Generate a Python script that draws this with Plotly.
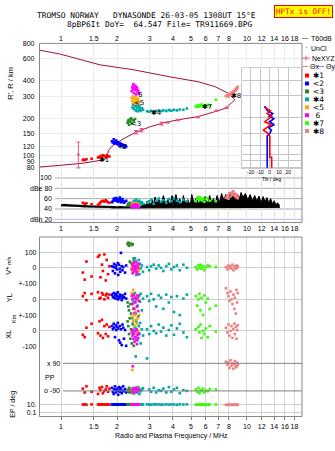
import numpy as np
import plotly.graph_objects as go

W, H = 335, 451

# ---------------------------------------------------------------- header text
TITLE_LINE_1 = "TROMSO NORWAY   DYNASONDE 26-03-05 1308UT 15°E"
TITLE_LINE_2 = "8pBP6It DoY=  64.547 File= TR911669.BPG"
STATUS_TEXT = "HPTx is OFF!"
FREQ_TITLE = "Radio and Plasma Frequency / MHz"

# ---------------------------------------------------------------- axis ticks
FREQ_TICKS = [1, 1.5, 2, 3, 4, 5, 6, 7, 8, 10, 12, 14, 16, 18]
FREQ_TICK_TEXT = ["1", "1.5", "2", "3", "4", "5", "6", "7", "8", "10", "12", "14", "16", "18"]
HEIGHT_TICKS = [80, 90, 100, 120, 150, 200, 300, 400, 600, 800]
AMP_TICKS = [100, 80, 60, 40, 20]
AMP_TICK_TEXT = ["100", "dBe 80", "60", "40", "dBn 20"]
TILT_TICKS = [-20, -10, 0, 10, 20]
TILT_TICK_TEXT = ["-20", "-10", "0", "10", "20"]

# ---------------------------------------------------------------- model profile (MHz, km)
profile_freq = [0.77, 0.99, 1.62, 2.44, 3.85, 5.45, 6.72, 7.91, 8.43, 8.60,
                8.27, 7.77, 6.87, 5.47, 4.27, 3.55, 3.00, 2.71, 2.53, 2.16,
                1.91, 1.80, 1.78, 1.76, 1.69, 1.32, 0.99, 0.77]
profile_height = [705, 656, 538, 492, 431, 394, 360, 319, 291, 282,
                  268, 243, 229, 207, 195, 184, 171, 162, 155, 137,
                  122, 111, 100, 96, 93, 87.5, 84, 81.5]

# NeXYZ plasma-frequency points with height uncertainty
ne_freq = [1.24, 2.53, 2.71, 3.47, 3.76, 4.25, 5.45, 6.86, 7.77]
ne_height = [102, 155, 161, 182, 186, 194, 205, 230, 243]
ne_err_up = [27, 5, 5, 5, 2, 2, 2, 2, 2]
ne_err_down = [22, 5, 5, 5, 2, 2, 2, 2, 2]

# tilt profiles (km, deg)
theta_height = [79, 96, 96, 142, 150, 158, 166, 175, 185, 195, 205, 215, 226, 238, 246]
theta_x = [2.3, 2.3, 0.3, 0.3, -2.0, -6.5, -3.0, 1.5, -5.0, -1.0, 2.5, -2.5, 1.0, -3.5, -4.5]
theta_y = [-2.5, -2.5, -2.5, -2.5, 0.5, 2.0, -1.0, 5.0, 0.0, 4.5, -0.5, 3.5, -2.0, -4.0, -5.5]

# T60dB noise/amplitude envelope (MHz, dB)
t60_freq = [1.00, 1.05, 1.10, 1.15, 1.20, 1.25, 1.30, 1.40, 1.50, 1.60,
            1.70, 1.80, 1.90, 2.00, 2.10, 2.20, 2.30, 2.40, 2.50, 2.60,
            2.70, 2.80, 2.85, 2.90, 2.95, 3.00, 3.05, 3.10, 3.15, 3.20,
            3.30, 3.35, 3.45, 3.55, 3.65, 3.75, 3.85, 3.95, 4.05, 4.15,
            4.25, 4.35, 4.45, 4.55, 4.65, 4.80, 4.95, 5.05, 5.20, 5.35,
            5.50, 5.65, 5.80, 5.95, 6.10, 6.30, 6.45, 6.60, 6.75, 6.90,
            7.10, 7.30, 7.50, 7.70, 7.90, 8.10, 8.30, 8.50, 8.70, 8.90,
            9.10, 9.30, 9.50, 9.80, 10.1, 10.4, 10.7, 11.0, 11.3, 11.6,
            11.9, 12.2, 12.5, 12.8, 13.1, 13.4, 13.7, 14.0, 14.3, 14.6, 15.0]
t60_floor = [46, 46, 46, 45, 45, 45, 44, 44, 43, 43,
             43, 43, 42, 42, 42, 42, 42, 42, 42, 42,
             42, 42, 42, 42, 42, 42, 42, 42, 42, 42,
             42, 42, 42, 42, 42, 42, 42, 42, 42, 42,
             42, 42, 42, 42, 42, 42, 42, 42, 42, 42,
             42, 42, 42, 42, 42, 42, 42, 42, 42, 42,
             42, 42, 42, 42, 42, 42, 42, 42, 42, 42,
             43, 43, 43, 43, 43, 43, 43, 43, 43, 43,
             43, 43, 43, 43, 43, 43, 43, 43, 43, 43, 43]
t60_level = [48, 49, 48, 48, 47, 47, 47, 46, 46, 46,
             45, 45, 45, 44, 45, 44, 45, 44, 45, 46,
             47, 50, 46, 55, 47, 52, 46, 58, 48, 63,
             50, 60, 47, 66, 50, 58, 48, 66, 52, 68,
             50, 60, 47, 66, 52, 58, 47, 68, 50, 62,
             49, 58, 50, 64, 48, 66, 52, 60, 48, 66,
             52, 70, 58, 68, 55, 72, 60, 70, 58, 68,
             60, 72, 62, 70, 58, 68, 56, 66, 55, 65,
             52, 64, 54, 62, 52, 60, 50, 56, 48, 52, 46]

# ---------------------------------------------------------------- echo clusters
red_freq = [1.31, 1.34, 1.37, 1.46, 1.58, 1.61, 1.63, 1.66, 1.68, 1.71, 1.74, 1.76, 1.79, 1.82]
red_height = [93, 93, 94, 95, 97, 98, 100, 99, 101, 100, 98, 101, 100, 99]
red_amp = [52, 50, 51, 49, 48, 50, 53, 55, 56, 54, 57, 55, 53, 52]
red_vstar = [-30, -75, 40, -55, 70, 80, -60, 20, -20, 85, -80, 50, -40, 10]
red_yl = [20, 40, -5, 35, 45, 5, 10, 40, 30, 0, 25, 35, 10, 30]
red_xl = [-25, -40, 20, 45, -15, 60, -30, 70, -45, 30, -20, 40, -35, 25]
red_pp = [-75, -100, -60, -95, -110, -70, -85, -65, -105, -90, -80, -60, -95, -75]
red_ep = [11, 12, 10, 12, 11, 13, 10, 12, 11, 12, 10, 11, 12, 11]

blue_freq = [1.88, 1.90, 1.92, 1.93, 1.95, 1.97, 1.98, 2.00, 2.02, 2.03,
             2.05, 2.07, 2.08, 2.10, 2.12, 2.14, 2.16, 2.18, 2.21, 2.24]
blue_height = [131, 128, 136, 126, 130, 127, 133, 125, 129, 124,
               127, 122, 126, 121, 124, 120, 122, 118, 121, 119]
blue_amp = [53, 55, 58, 60, 57, 56, 61, 59, 55, 54, 58, 62, 57, 53, 56, 59, 55, 52, 54, 56]
blue_vstar = [10, -20, 5, 25, -35, 0, 15, -10, 30, -45, 20, -5, -25, 95, 10, -15, 5, -105, -30, 15]
blue_yl = [30, 15, 40, 10, 25, 5, 35, 20, 45, 0, 15, 30, 10, 20, -5, 25, 10, 15, 35, 5]
blue_xl = [30, 10, 45, 20, -40, 35, 5, 25, 50, 15, -60, 30, -75, 10, -90, 40, 20, -50, 5, -95]
blue_pp = [-70, -95, -110, -80, -60, -100, -85, -75, -90, -115,
           -65, -95, -80, -70, -105, -88, -60, -92, -78, -100]
blue_ep = [11, 12, 11, 10, 12, 11, 13, 11, 12, 10, 11, 12, 11, 10, 12, 11, 12, 11, 10, 12]

green_freq = [2.28, 2.30, 2.32, 2.34, 2.36, 2.38, 2.40, 2.43, 2.46, 2.50]
green_height = [185, 192, 178, 196, 188, 200, 182, 194, 190, 198]
green_amp = [47, 50, 48, 52, 46, 49, 51, 48, 50, 47]
green_vstar = [150, 160, 140, 40, 155, 30, 145, 150, 60, 35]
green_yl = [-20, -45, -70, -110, -30, -90, -125, 0, -60, -15]
green_xl = [60, 30, -20, 80, -50, 10, -80, 45, -95, 20]
green_pp = [-85, -95, -70, -100, -80, -90, -75, -105, -88, -92]
green_ep = [12, 11, 12, 10, 11, 12, 11, 12, 11, 12]

teal_freq = [2.42, 2.44, 2.46, 2.48, 2.50, 2.52, 2.54, 2.56, 2.58, 2.60,
             2.62, 2.64, 2.66, 2.68, 2.72, 2.76, 2.90, 2.98, 3.05, 3.15,
             3.25, 3.35, 3.45, 3.55, 3.68, 3.80, 3.92, 4.05, 4.20, 4.35, 4.55, 4.75]
teal_height = [245, 258, 238, 262, 250, 232, 255, 244, 228, 248,
               236, 252, 240, 230, 242, 235, 228, 226, 230, 227,
               229, 231, 228, 232, 230, 233, 231, 234, 232, 236, 235, 240]
teal_amp = [50, 53, 56, 49, 52, 55, 58, 51, 47, 54,
            50, 56, 52, 48, 53, 50, 52, 55, 58, 50,
            56, 60, 54, 57, 52, 59, 55, 61, 56, 53, 58, 55]
teal_vstar = [20, -30, 45, -10, 60, 0, -45, 30, -20, 10,
              50, -40, 25, -5, 15, -25, 5, -15, 10, 20,
              -5, 15, 0, -20, 10, 25, -10, 5, 15, -15, 20, 0]
teal_yl = [30, -20, 10, -60, 40, -90, 0, 20, -40, 15,
           -110, 25, -15, 35, -70, 5, 20, -10, 35, 0,
           -45, 25, 10, -60, 30, -20, 15, -80, 20, -100, 5, 30]
teal_xl = [80, 40, -10, 120, 20, -40, 60, 0, -60, 90,
           30, -20, 50, -80, 10, -30, 10, -20, 30, 0,
           -15, 40, -5, 20, -30, 5, 35, -25, 15, 45, -10, -40]
teal_pp = [-80, -95, -70, -105, -85, 135, -90, -75, -100, -65,
           -88, -110, -78, -92, -84, -72, 122, -80, -95, -70,
           -100, -85, -90, -75, -100, -65, -95, -80, -70, -105, -85, -90]
teal_ep = [11, 12, 11, 10, 12, 11, 12, 11, 10, 12,
           11, 12, 11, 10, 12, 11, 12, 11, 10, 12,
           11, 12, 11, 10, 12, 11, 12, 11, 10, 12, 11, 12]

orange_freq = [2.40, 2.42, 2.44, 2.46, 2.48, 2.50, 2.52, 2.54, 2.56, 2.58, 2.60, 2.63]
orange_height = [290, 275, 300, 268, 285, 262, 295, 272, 280, 265, 288, 270]
orange_amp = [48, 50, 46, 52, 49, 47, 51, 48, 50, 46, 49, 47]
orange_vstar = [10, -20, 25, -5, 30, 0, -30, 15, -10, 20, 5, -15]
orange_yl = [40, -30, 60, -120, 10, -80, -150, 20, -50, -170, 0, -100]
orange_xl = [120, 90, 60, 150, 30, 100, 70, -20, 45, 80, 0, 110]
orange_pp = [-80, 47, -90, -100, -75, -85, -95, -70, -88, -92, -78, -84]
orange_ep = [12, 11, 12, 11, 10, 12, 11, 12, 11, 12, 11, 10]

magenta_freq = [2.40, 2.42, 2.43, 2.45, 2.46, 2.48, 2.50, 2.51, 2.53, 2.55, 2.56, 2.58, 2.60, 2.62]
magenta_height = [330, 360, 345, 375, 320, 350, 338, 365, 312, 342, 355, 325, 335, 318]
magenta_amp = [45, 47, 43, 48, 46, 44, 49, 45, 47, 44, 46, 48, 45, 43]
magenta_vstar = [-10, 20, -35, 5, 30, -20, 10, -5, 40, -25, 15, -40, 0, 25]
magenta_yl = [20, -30, 0, -60, 30, -90, 10, -20, -110, 5, -45, 25, -75, -10]
magenta_xl = [-10, -30, 5, -50, -20, -70, 0, -40, -60, 10, -85, -25, -45, -15]
magenta_pp = [-85, -95, 71, -75, -100, -88, -80, -92, -70, -96, -84, -78, -90, -82]
magenta_ep = [11, 12, 11, 12, 10, 11, 12, 11, 12, 11, 10, 12, 11, 12]

lime_freq = [5.30, 5.40, 5.48, 5.55, 5.62, 5.70, 5.80, 5.90, 6.00, 6.15, 6.30, 6.80]
lime_height = [250, 254, 248, 256, 252, 258, 251, 255, 253, 257, 254, 282]
lime_amp = [55, 60, 63, 58, 62, 57, 60, 54, 59, 61, 56, 55]
lime_vstar = [5, -10, 15, 0, 20, -5, 10, -15, 5, 15, 10, 5]
lime_yl = [20, -40, 0, 35, -70, 10, -100, 25, -20, 5, -60, -40]
lime_xl = [10, -130, 25, -10, 40, -45, 0, -20, 15, -40, 30, -5]
lime_pp = [-80, -95, -70, -105, -85, -90, -75, -100, -88, -92, -78, -80]
lime_ep = [10, 11, 10, 11, 10, 11, 10, 11, 10, 11, 10, 11]

salmon_freq = [7.70, 7.85, 7.95, 8.05, 8.15, 8.25, 8.35, 8.45, 8.55, 8.60, 8.70, 8.78, 8.85, 8.92]
salmon_height = [302, 308, 300, 315, 310, 322, 318, 330, 326, 340, 335, 350, 345, 358]
salmon_amp = [62, 66, 60, 70, 64, 72, 68, 74, 66, 70, 63, 68, 65, 61]
salmon_vstar = [5, -10, 15, 0, 10, -5, 20, -15, 5, 10, -5, 15, 0, 10]
salmon_yl = [70, 40, 20, -10, 50, 0, -30, 30, -60, 10, -90, 60, -20, 40]
salmon_xl = [20, -10, 40, -30, 0, 30, -45, 10, 45, -20, 25, -50, 5, 35]
salmon_pp = [100, 80, 95, 60, 110, 75, 90, 55, 85, 105, 70, 65, 95, 80]
salmon_ep = [9, 10, 9, 10, 9, 10, 9, 10, 9, 10, 9, 10, 9, 10]

CLUSTER_LABELS = ["✱1", "<2", "<3", "✱4", "<5", " 6", "✱7", "✱8"]
CLUSTER_COLORS = ["#ff0000", "#0000ff", "#228b22", "#00a8a8",
                  "#ffa500", "#ff00ff", "#33ff00", "#f08080"]
# label anchor (MHz, km) of each cluster tag in the height panel
TAG_FREQ = [1.70, 2.14, 2.52, 3.27, 2.64, 2.68, 6.07, 8.69]
TAG_HEIGHT = [92, 118, 180, 222, 268, 308, 248, 302]

cluster_table = [
    (red_freq, red_height, red_amp, red_vstar, red_yl, red_xl, red_pp, red_ep),
    (blue_freq, blue_height, blue_amp, blue_vstar, blue_yl, blue_xl, blue_pp, blue_ep),
    (green_freq, green_height, green_amp, green_vstar, green_yl, green_xl, green_pp, green_ep),
    (teal_freq, teal_height, teal_amp, teal_vstar, teal_yl, teal_xl, teal_pp, teal_ep),
    (orange_freq, orange_height, orange_amp, orange_vstar, orange_yl, orange_xl, orange_pp, orange_ep),
    (magenta_freq, magenta_height, magenta_amp, magenta_vstar, magenta_yl, magenta_xl, magenta_pp, magenta_ep),
    (lime_freq, lime_height, lime_amp, lime_vstar, lime_yl, lime_xl, lime_pp, lime_ep),
    (salmon_freq, salmon_height, salmon_amp, salmon_vstar, salmon_yl, salmon_xl, salmon_pp, salmon_ep),
]

# ---------------------------------------------------------------- layout helpers (pixel -> paper)
def px(x):
    return x / W


def py(y):
    return 1 - y / H


X_LEFT, X_RIGHT = 39.5, 302
FREQ_RANGE = [np.log10(0.766), np.log10(19.76)]
FONT = "Liberation Sans, Arial, sans-serif"
MONO = "DejaVu Sans Mono, monospace"
tick_font = dict(family=FONT, size=7, color="#000000")


def note(x, y, text, size=7, family=FONT, xanchor="center", angle=0, color="#000000", **kw):
    """Paper-positioned text given in pixel coordinates."""
    return dict(xref="paper", yref="paper", x=px(x), y=py(y), text=text, showarrow=False,
                xanchor=xanchor, yanchor="middle", textangle=angle,
                font=dict(family=family, size=size, color=color), **kw)


fig = go.Figure()

# model profile and plasma-frequency points
fig.add_trace(go.Scatter(x=profile_freq, y=profile_height, xaxis="x", yaxis="y", mode="lines",
                         line=dict(color="#a0103c", width=1), hoverinfo="skip"))
fig.add_trace(go.Scatter(x=ne_freq, y=ne_height, xaxis="x", yaxis="y", mode="markers",
                         marker=dict(symbol="square", size=2.5, color="#e8588a"),
                         error_y=dict(type="data", symmetric=False, array=ne_err_up,
                                      arrayminus=ne_err_down, color="#e8588a", thickness=1, width=2),
                         hoverinfo="skip"))

# amplitude envelope
fig.add_trace(go.Scatter(x=t60_freq, y=t60_floor, xaxis="x2", yaxis="y2", mode="lines",
                         line=dict(color="#000000", width=1), hoverinfo="skip"))
fig.add_trace(go.Scatter(x=t60_freq, y=t60_level, xaxis="x2", yaxis="y2", mode="lines",
                         line=dict(color="#000000", width=1), fill="tonexty",
                         fillcolor="#000000", hoverinfo="skip"))

# tilt inset
fig.add_trace(go.Scatter(x=theta_y, y=theta_height, xaxis="x4", yaxis="y8", mode="lines",
                         line=dict(color="#0000ff", width=1.6), hoverinfo="skip"))
fig.add_trace(go.Scatter(x=theta_x, y=theta_height, xaxis="x4", yaxis="y8", mode="lines",
                         line=dict(color="#ff0000", width=1.6), hoverinfo="skip"))

# echo clusters in every panel
panel_axes = [("x", "y"), ("x2", "y2"), ("x3", "y3"), ("x3", "y4"),
              ("x3", "y5"), ("x3", "y6"), ("x3", "y7")]
for color, row in zip(CLUSTER_COLORS, cluster_table):
    freq = row[0]
    for (xa, ya), vals in zip(panel_axes, row[1:]):
        fig.add_trace(go.Scatter(x=freq, y=vals, xaxis=xa, yaxis=ya, mode="markers",
                                 marker=dict(symbol="square", size=2.6, color=color, line=dict(width=0)),
                                 cliponaxis=(ya in ("y", "y2")), hoverinfo="skip"))

freq_axis = dict(type="log", range=FREQ_RANGE, domain=[px(X_LEFT), px(X_RIGHT)],
                 tickvals=FREQ_TICKS, ticktext=FREQ_TICK_TEXT, tickfont=tick_font, tickangle=0,
                 showgrid=True, zeroline=False, showline=False)

layout = dict(
    width=W, height=H, margin=dict(l=0, r=0, t=0, b=0),
    paper_bgcolor="#ffffff", plot_bgcolor="#ffffff", showlegend=False,
    xaxis=dict(freq_axis, anchor="y", side="top", gridcolor="#ececec", ticks=""),
    yaxis=dict(type="log", range=[np.log10(72.5), np.log10(800)], domain=[py(172), py(40)],
               anchor="x", tickvals=HEIGHT_TICKS, tickfont=tick_font, gridcolor="#ececec",
               zeroline=False, ticks="", ticklabelstandoff=4),
    xaxis2=dict(freq_axis, anchor="y2", side="bottom", gridcolor="#e2e2e2", ticks=""),
    yaxis2=dict(range=[13.7, 109], domain=[py(222), py(172)], anchor="x2",
                showticklabels=False, showgrid=False, zeroline=False),
    xaxis3=dict(freq_axis, anchor="y7", side="bottom", gridcolor="#d6d6d6",
                ticks="outside", ticklen=3, tickcolor="#777777"),
    yaxis3=dict(range=[-100, 195.6], domain=[py(284), py(236.7)], anchor="x3",
                tickvals=[100, 0, -100], ticktext=["100", "0", "+-100"], tickfont=tick_font,
                gridcolor="#d0d0d0", zeroline=False, ticklabelstandoff=2),
    yaxis4=dict(range=[-100, 100], domain=[py(316), py(284)], anchor="x3",
                tickvals=[0, -100], ticktext=["0", "+-100"], tickfont=tick_font,
                gridcolor="#d0d0d0", zeroline=False, ticklabelstandoff=2),
    yaxis5=dict(range=[-100, 100], domain=[py(348), py(316)], anchor="x3",
                tickvals=[0, -100], ticktext=["0", "-100"], tickfont=tick_font,
                gridcolor="#d0d0d0", zeroline=False, ticklabelstandoff=2),
    yaxis6=dict(range=[-134.9, 199.3], domain=[py(400), py(348)], anchor="x3",
                showticklabels=False, showgrid=False, zeroline=False),
    yaxis7=dict(type="log", range=[-2, 2.75], domain=[py(419), py(400)], anchor="x3",
                tickvals=[10, 0.1], ticktext=["10.", "0.1"], tickfont=tick_font,
                gridcolor="#d0d0d0", zeroline=False, ticklabelstandoff=2),
    xaxis4=dict(range=[-29.6, 33.5], domain=[px(241.7), px(301)], anchor="y8",
                tickvals=TILT_TICKS, ticktext=TILT_TICK_TEXT, tickangle=0,
                tickfont=dict(family=FONT, size=5, color="#000000"),
                gridcolor="#c4c4cc", zeroline=False, ticks="", ticklabelstandoff=0),
    yaxis8=dict(type="log", range=[np.log10(78), np.log10(500)], domain=[py(167), py(65)],
                anchor="x4", tickvals=HEIGHT_TICKS, showticklabels=False,
                gridcolor="#c4c4cc", zeroline=False),
)
fig.update_layout(**layout)

shapes = []
annotations = []

# inset background and frames
shapes.append(dict(type="rect", xref="x4 domain", yref="y8 domain", x0=0, x1=1, y0=0, y1=1,
                   fillcolor="#ffffff", line=dict(color="#999999", width=1), layer="below"))
for top, bottom in ((40, 222), (236.7, 419)):
    shapes.append(dict(type="rect", xref="paper", yref="paper", x0=px(X_LEFT), x1=px(X_RIGHT),
                       y0=py(bottom), y1=py(top), line=dict(color="#888888", width=1),
                       fillcolor="rgba(0,0,0,0)", layer="above"))

# amplitude panel guide lines and inner labels
for val, text in zip(AMP_TICKS, AMP_TICK_TEXT):
    color = "#b4b4e6" if val == 20 else "#a8a8a8"
    shapes.append(dict(type="line", xref="paper", yref="y2", x0=px(55), x1=px(X_RIGHT),
                       y0=val, y1=val, line=dict(color=color, width=1), layer="below"))
    annotations.append(dict(xref="paper", yref="y2", x=px(53.5), y=val, text=text,
                            showarrow=False, xanchor="right", yanchor="middle",
                            font=dict(family=FONT, size=7, color="#000000")))

# polarisation guide lines
for val, text in ((90, "x 90"), (-90, "o -90")):
    shapes.append(dict(type="line", xref="paper", yref="y6", x0=px(63), x1=px(X_RIGHT),
                       y0=val, y1=val, line=dict(color="#808080", width=1)))
    annotations.append(dict(xref="paper", yref="y6", x=px(62), y=val, text=text,
                            showarrow=False, xanchor="right", yanchor="middle",
                            font=dict(family=FONT, size=7, color="#000000")))
annotations.append(dict(xref="paper", yref="y6", x=px(43), y=0, text="PP", showarrow=False,
                        xanchor="left", yanchor="middle",
                        font=dict(family=FONT, size=7, color="#000000")))

# cluster tags
for label, f, h in zip(CLUSTER_LABELS, TAG_FREQ, TAG_HEIGHT):
    annotations.append(dict(xref="x", yref="y", x=np.log10(f), y=np.log10(h), text=label.strip(),
                            showarrow=False, borderpad=0, xanchor="center", yanchor="middle",
                            font=dict(family="DejaVu Sans", size=7, color="#000000")))

# header
annotations += [
    note(35, 12, TITLE_LINE_1, size=7.9, family=MONO, xanchor="left"),
    note(65, 20.5, TITLE_LINE_2, size=7.9, family=MONO, xanchor="left"),
    note(303, 8, STATUS_TEXT, size=7.6, family=MONO, color="#ff0000",
         bgcolor="#ffff00", bordercolor="#ff0000", borderwidth=1, borderpad=1),
]

# axis titles
annotations += [
    note(11, 81, "R', R / km", size=7.5, angle=-90),
    note(9, 266, "V* <span style='font-size:5px'>m/s</span>", size=7.5, angle=-90),
    note(9, 299, "YL", size=7.5, angle=-90),
    note(14, 320, "Km", size=5.5, angle=-90),
    note(9, 336, "XL", size=7.5, angle=-90),
    note(13, 407, "EP / deg", size=7, angle=-90),
    note(171, 439, FREQ_TITLE, size=7),
    note(271, 177.5, "Tilt / deg", size=5),
]

# legend block on the right
shapes.append(dict(type="line", xref="paper", yref="paper", x0=px(302), x1=px(308),
                   y0=py(35), y1=py(35), line=dict(color="#909090", width=1)))
annotations.append(note(309, 35, "T60dB", xanchor="left"))
annotations.append(note(306, 44, "·", size=8))
annotations.append(note(309, 45, "UnCl", xanchor="left"))
shapes.append(dict(type="line", xref="paper", yref="paper", x0=px(302), x1=px(310),
                   y0=py(55), y1=py(55), line=dict(color="#e8588a", width=1)))
shapes.append(dict(type="line", xref="paper", yref="paper", x0=px(306), x1=px(306),
                   y0=py(52.5), y1=py(57.5), line=dict(color="#e8588a", width=1)))
annotations.append(note(310, 55, "NeXYZ", xanchor="left"))
shapes.append(dict(type="line", xref="paper", yref="paper", x0=px(302), x1=px(308),
                   y0=py(63.5), y1=py(63.5), line=dict(color="#f08080", width=1)))
annotations.append(note(308, 63.5, "Θx", xanchor="left"))
shapes.append(dict(type="line", xref="paper", yref="paper", x0=px(318), x1=px(324),
                   y0=py(63.5), y1=py(63.5), line=dict(color="#8080ff", width=1)))
annotations.append(note(324, 63.5, "Θy", xanchor="left"))
for i, (label, color) in enumerate(zip(CLUSTER_LABELS, CLUSTER_COLORS)):
    yc = 72.7 + 8.05 * i
    shapes.append(dict(type="rect", xref="paper", yref="paper", x0=px(305), x1=px(309),
                       y0=py(yc + 2), y1=py(yc - 2), fillcolor=color, line=dict(width=0)))
    annotations.append(note(311, yc, label, size=7.5, family="DejaVu Sans", xanchor="left"))

fig.update_layout(shapes=shapes, annotations=annotations)
fig.write_html("out.html")
